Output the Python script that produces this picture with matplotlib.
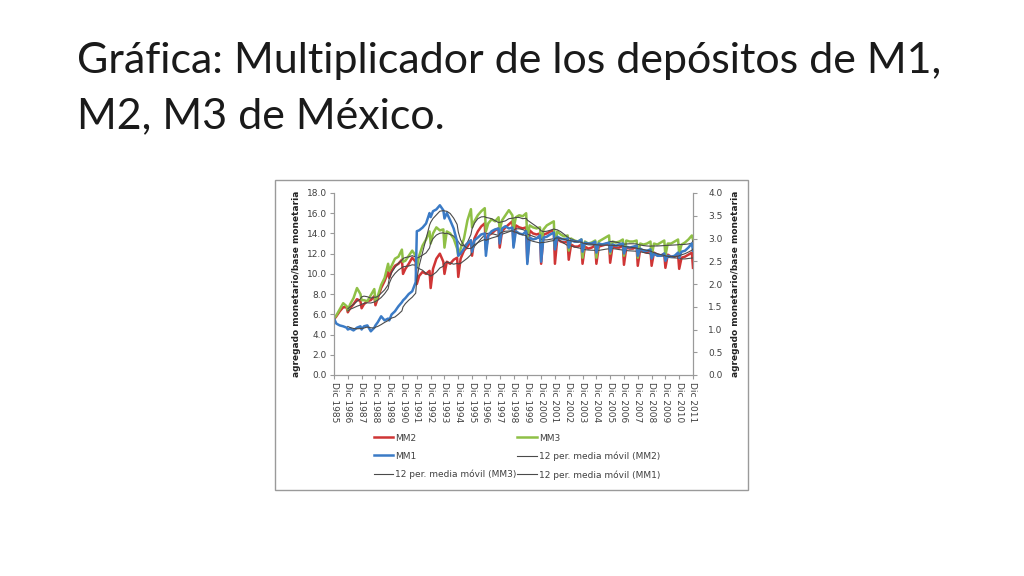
"""
Multiplicador de los depositos de M1, M2, M3 de Mexico (slide recreation).
"""
import matplotlib
matplotlib.use("Agg")
from matplotlib import pyplot as plt
from matplotlib.patches import Rectangle
import numpy as np
import pandas as pd

# sample months within each year (Feb, May, Aug, Nov, Dec)
months = [2, 5, 8, 11, 12]
years = list(range(1986, 2012))

# MM2 (left axis), first value = Dec 1985
mm2 = [5.5,
       5.8, 6.3, 6.7, 6.7, 6.2,
       6.6, 7.0, 7.5, 7.3, 6.6,
       7.0, 7.3, 7.4, 7.8, 6.9,
       7.6, 8.6, 9.3, 10.2, 9.6,
       10.3, 10.8, 11.0, 11.4, 10.0,
       10.5, 11.0, 11.6, 11.2, 9.0,
       9.8, 10.2, 10.0, 10.3, 8.6,
       10.5, 11.5, 12.0, 11.2, 10.0,
       11.2, 11.0, 11.4, 11.6, 9.7,
       11.5, 12.3, 12.7, 13.3, 11.8,
       13.5, 14.2, 14.7, 15.0, 12.4,
       13.8, 14.0, 14.3, 14.5, 12.6,
       14.2, 14.6, 14.9, 15.2, 12.8,
       14.8, 14.6, 14.5, 14.6, 11.2,
       14.3, 14.0, 13.9, 14.0, 11.0,
       13.9, 14.0, 14.2, 14.3, 11.0,
       13.5, 13.2, 13.1, 13.2, 11.4,
       12.9, 12.7, 12.7, 12.9, 11.0,
       12.7, 12.5, 12.6, 12.8, 11.0,
       12.7, 12.8, 12.9, 13.0, 11.1,
       12.7, 12.6, 12.6, 12.8, 10.9,
       12.6, 12.5, 12.5, 12.7, 10.8,
       12.4, 12.2, 12.1, 12.4, 10.8,
       12.1, 11.9, 11.8, 12.0, 10.6,
       11.9, 11.7, 11.7, 11.9, 10.5,
       11.6, 11.7, 11.9, 12.1, 10.6]

# MM3 (left axis)
mm3 = [5.6,
       5.9, 6.5, 7.1, 6.8, 6.4,
       7.0, 7.6, 8.6, 8.0, 7.4,
       7.4, 7.3, 7.9, 8.5, 7.3,
       7.8, 8.9, 9.6, 11.0, 10.3,
       10.8, 11.5, 11.7, 12.4, 11.2,
       11.3, 11.8, 12.3, 11.8, 10.6,
       11.8, 12.8, 13.4, 14.2, 13.0,
       14.0, 14.6, 14.3, 14.4, 12.6,
       14.2, 14.0, 13.5, 12.5, 11.8,
       12.5, 13.5, 15.3, 16.4, 14.6,
       15.2, 15.8, 16.2, 16.5, 14.2,
       15.0, 15.4, 15.2, 15.6, 14.3,
       15.3, 15.8, 16.3, 15.8, 14.4,
       15.6, 15.8, 15.7, 16.0, 13.5,
       14.8, 14.6, 14.5, 14.6, 12.8,
       14.4, 14.8, 15.0, 15.2, 12.6,
       14.2, 13.9, 13.7, 13.8, 12.3,
       13.5, 13.3, 13.2, 13.4, 11.6,
       13.2, 13.0, 13.1, 13.3, 11.6,
       13.2, 13.4, 13.6, 13.8, 12.0,
       13.2, 13.1, 13.2, 13.4, 11.8,
       13.3, 13.2, 13.2, 13.3, 11.6,
       13.0, 12.9, 13.0, 13.2, 11.7,
       13.0, 12.9, 13.1, 13.3, 11.8,
       13.0, 13.0, 13.2, 13.4, 12.0,
       12.9, 13.1, 13.4, 13.8, 13.4]

# MM1 (right axis)
mm1 = [1.24,
       1.13, 1.09, 1.07, 1.04, 1.00,
       1.02, 0.98, 1.04, 1.07, 1.00,
       1.07, 1.09, 0.96, 1.04, 1.09,
       1.16, 1.29, 1.20, 1.24, 1.20,
       1.33, 1.40, 1.51, 1.60, 1.64,
       1.69, 1.78, 1.84, 2.04, 3.16,
       3.18, 3.24, 3.33, 3.56, 3.47,
       3.60, 3.64, 3.73, 3.62, 3.44,
       3.56, 3.40, 3.22, 2.93, 2.62,
       2.67, 2.78, 2.89, 2.96, 2.71,
       2.96, 3.02, 3.09, 3.11, 2.62,
       3.07, 3.16, 3.20, 3.22, 2.89,
       3.22, 3.27, 3.22, 3.24, 2.80,
       3.16, 3.11, 3.09, 3.16, 2.44,
       3.02, 2.98, 3.00, 3.07, 2.49,
       3.02, 3.04, 3.09, 3.13, 2.76,
       3.04, 3.00, 2.98, 3.00, 2.80,
       2.96, 2.93, 2.93, 2.98, 2.71,
       2.91, 2.89, 2.89, 2.93, 2.69,
       2.89, 2.87, 2.89, 2.91, 2.71,
       2.87, 2.84, 2.87, 2.89, 2.67,
       2.82, 2.80, 2.82, 2.84, 2.62,
       2.78, 2.73, 2.73, 2.76, 2.56,
       2.67, 2.62, 2.62, 2.67, 2.51,
       2.62, 2.60, 2.62, 2.69, 2.58,
       2.71, 2.73, 2.80, 2.89, 2.73]

tick_years = list(range(1985, 2012))
tick_labels = ["Dic %d" % y for y in tick_years]

RED = "#CF3535"
GREEN = "#8FC046"
BLUE = "#3B7BC6"
MA = "#4a4a4a"
TXT = "#404040"
EDGE = "#9a9a9a"

dates = [pd.Timestamp(1985, 12, 1)] + [pd.Timestamp(y, m, 1) for y in years for m in months]
df = pd.DataFrame({"MM2": mm2, "MM3": mm3, "MM1": mm1}, index=pd.DatetimeIndex(dates))


def moving_avg(s):
    ma = s.rolling("365D").mean()
    ma[ma.index < pd.Timestamp(1986, 12, 1)] = np.nan
    return ma


fig = plt.figure(figsize=(10.24, 5.76), dpi=100)
fig.patch.set_facecolor("white")

# slide title (two lines, baselines placed separately)
title_kw = dict(fontsize=31, family="Lato", fontweight="normal", color="#1a1a1a",
                va="baseline", ha="left")
fig.text(77 / 1024, 1 - 73 / 576, "Gráfica: Multiplicador de los depósitos de M1,", **title_kw)
fig.text(77 / 1024, 1 - 128 / 576, "M2, M3 de México.", **title_kw)

fig.add_artist(Rectangle((275 / 1024, 1 - 490 / 576), 473 / 1024, 310 / 576,
                         transform=fig.transFigure, fill=False, edgecolor=EDGE, lw=1.0))

ax = fig.add_axes([334 / 1024, 1 - 375 / 576, 359 / 1024, 182 / 576])
ax2 = ax.twinx()

l_mm2, = ax.plot(df.index, df["MM2"], color=RED, lw=1.8, label="MM2")
l_mm3, = ax.plot(df.index, df["MM3"], color=GREEN, lw=1.8, label="MM3")
l_ma2, = ax.plot(df.index, moving_avg(df["MM2"]), color=MA, lw=0.8, label="12 per. media móvil (MM2)")
l_ma3, = ax.plot(df.index, moving_avg(df["MM3"]), color=MA, lw=0.8, label="12 per. media móvil (MM3)")
l_mm1, = ax2.plot(df.index, df["MM1"], color=BLUE, lw=1.8, label="MM1")
l_ma1, = ax2.plot(df.index, moving_avg(df["MM1"]), color=MA, lw=0.8, label="12 per. media móvil (MM1)")

ax.set_xlim(pd.Timestamp(1985, 12, 1), pd.Timestamp(2011, 12, 1))
ax.set_ylim(0, 18)
ax2.set_ylim(0, 4)
ax.set_yticks(np.arange(0, 18.1, 2))
ax.set_yticklabels(["%.1f" % v for v in np.arange(0, 18.1, 2)])
ax2.set_yticks(np.arange(0, 4.01, 0.5))
ax2.set_yticklabels(["%.1f" % v for v in np.arange(0, 4.01, 0.5)])
ax.set_xticks([pd.Timestamp(y, 12, 1) for y in tick_years])
ax.set_xticklabels(tick_labels, rotation=270, fontsize=6.5, color=TXT)

for a in (ax, ax2):
    a.spines["top"].set_visible(False)
    for sp in ("left", "right", "bottom"):
        a.spines[sp].set_color(EDGE)
        a.spines[sp].set_linewidth(0.8)
    a.tick_params(axis="both", labelsize=6.5, labelcolor=TXT, color=EDGE,
                  length=3, width=0.8, pad=2)
ax2.tick_params(axis="y", pad=8)

ax.set_ylabel("agregado monetario/base monetaria", fontsize=6.5, fontweight="bold", color="#222222", labelpad=4)
ax2.set_ylabel("agregado monetario/base monetaria", fontsize=6.5, fontweight="bold", color="#222222", labelpad=6)

handles = [l_mm2, l_mm1, l_ma3, l_mm3, l_ma2, l_ma1]
fig.legend(handles, [h.get_label() for h in handles], ncol=2, frameon=False,
           loc="upper left", bbox_to_anchor=(369 / 1024, 1 - 429 / 576),
           fontsize=6.5, handlelength=2.2, handletextpad=0.2, columnspacing=0.1,
           labelspacing=1.0, borderpad=0, labelcolor=TXT)

fig.savefig("out.png", dpi=100, facecolor="white")
